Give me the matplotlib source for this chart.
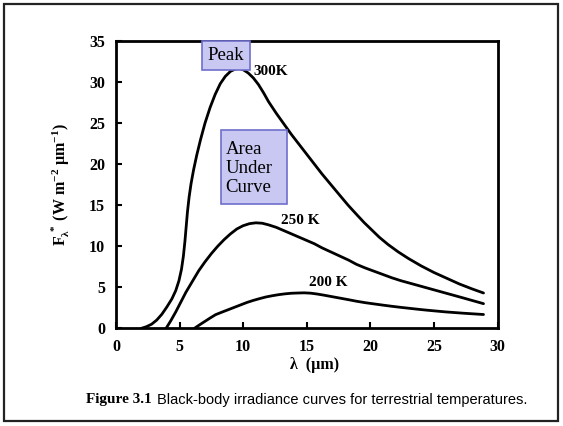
import matplotlib
matplotlib.use("Agg")
import matplotlib.pyplot as plt
from matplotlib.patches import Rectangle

plt.rcParams['font.family'] = ['Liberation Serif', 'DejaVu Serif']
plt.rcParams['mathtext.fontset'] = 'custom'
plt.rcParams['mathtext.rm'] = 'Liberation Serif'
plt.rcParams['mathtext.bf'] = 'Liberation Serif:bold'
plt.rcParams['mathtext.it'] = 'Liberation Serif:italic'

# Black-body spectral irradiance (W m-2 um-1) versus wavelength (um)
wl_300 = [2.0, 2.4, 2.8, 3.2, 3.6, 4.0, 4.4, 4.7, 4.95, 5.15, 5.3, 5.42, 5.52, 5.62,
          5.75, 5.9, 6.1, 6.35, 6.65, 7.0, 7.4, 7.8, 8.2, 8.6, 9.0, 9.4, 9.7, 10.0,
          10.4, 10.8, 11.2, 11.6, 12.0, 12.6, 13.2, 13.8, 14.4, 15.0, 15.6, 16.2,
          16.9, 17.6, 18.25, 18.9, 19.5, 20.1, 20.7, 21.4, 22.2, 23.0, 24.0, 25.0,
          26.0, 27.0, 28.0, 28.9]
irr_300 = [0.0, 0.2, 0.5, 1.0, 1.7, 2.6, 3.6, 4.6, 5.8, 7.2, 8.8, 10.6, 12.4, 14.2,
           16.0, 17.6, 19.3, 21.1, 23.0, 25.0, 26.9, 28.5, 29.8, 30.7, 31.3, 31.6,
           31.65, 31.5, 31.1, 30.5, 29.7, 28.7, 27.6, 26.2, 24.9, 23.6, 22.4, 21.2,
           20.0, 18.8, 17.5, 16.2, 15.0, 13.9, 12.9, 12.0, 11.1, 10.2, 9.3, 8.5,
           7.6, 6.8, 6.1, 5.4, 4.8, 4.3]

wl_250 = [3.94, 4.3, 4.7, 5.1, 5.5, 6.0, 6.5, 7.0, 7.5, 8.0, 8.5, 9.0, 9.5, 10.0,
          10.5, 11.0, 11.5, 12.0, 12.6, 13.2, 13.8, 14.4, 15.0, 15.6, 16.2, 16.9,
          17.6, 18.3, 18.9, 19.6, 20.3, 21.0, 21.7, 22.4, 23.1, 23.8, 24.5, 25.2,
          25.9, 26.6, 27.3, 28.1, 28.9]
irr_250 = [0.0, 0.9, 2.0, 3.2, 4.4, 5.7, 7.0, 8.1, 9.1, 10.0, 10.8, 11.5, 12.1, 12.5,
           12.75, 12.85, 12.8, 12.6, 12.3, 11.9, 11.5, 11.1, 10.7, 10.3, 9.8, 9.3,
           8.8, 8.3, 7.8, 7.35, 6.95, 6.55, 6.15, 5.8, 5.5, 5.2, 4.9, 4.6, 4.3, 4.0,
           3.7, 3.35, 3.0]

wl_200 = [6.17, 6.6, 7.0, 7.4, 7.83, 8.3, 8.8, 9.3, 9.8, 10.3, 10.8, 11.3, 11.8,
          12.3, 12.8, 13.3, 13.8, 14.3, 14.8, 15.3, 15.8, 16.3, 16.9, 17.6, 18.3,
          18.9, 19.6, 20.3, 21.0, 21.7, 22.4, 23.1, 23.8, 24.5, 25.2, 25.9, 26.6,
          27.3, 28.1, 28.9]
irr_200 = [0.0, 0.45, 0.85, 1.25, 1.66, 1.95, 2.25, 2.55, 2.85, 3.15, 3.4, 3.62,
           3.82, 3.97, 4.1, 4.2, 4.27, 4.3, 4.32, 4.28, 4.18, 4.05, 3.88, 3.68,
           3.48, 3.3, 3.12, 2.97, 2.82, 2.68, 2.55, 2.43, 2.31, 2.2, 2.1, 2.0,
           1.92, 1.84, 1.76, 1.68]

curve_labels = ['300K', '250 K', '200 K']

fig = plt.figure(figsize=(5.63, 4.26), dpi=100)

# outer frame
fig.patches.append(Rectangle((4 / 563, 1 - 421 / 426), 554 / 563, 417 / 426,
                             transform=fig.transFigure, fill=False,
                             edgecolor='#222222', lw=1.6))

ax = fig.add_axes([116 / 563, 1 - 328.3 / 426, 381.5 / 563, 287.3 / 426])
for wl, irr in [(wl_300, irr_300), (wl_250, irr_250), (wl_200, irr_200)]:
    ax.plot(wl, irr, color='black', lw=2.0, solid_capstyle='round',
            solid_joinstyle='round')

ax.set_xlim(0, 30)
ax.set_ylim(0, 35)
ax.set_xticks(range(0, 31, 5))
ax.set_yticks(range(0, 36, 5))
for s in ax.spines.values():
    s.set_linewidth(2.0)
ax.tick_params(direction='in', length=4, width=1.5, labelsize=11.5, pad=8)
for lab in ax.get_xticklabels() + ax.get_yticklabels():
    lab.set_fontweight('bold')

ax.set_xlabel('λ  (µm)', fontsize=11.5, fontweight='bold', labelpad=8)
ax.xaxis.set_label_coords(0.52, -0.1)
ax.set_ylabel(r'$\mathbf{F_{\lambda}^{\ *}}$ (W m$^{\mathbf{-2}}$ µm$^{\mathbf{-1}}$)',
              fontsize=11.5, fontweight='bold', labelpad=12)

box_style = dict(facecolor='#c8c8f2', edgecolor='#6e6ecc', lw=1.2)

# "Peak" callout
ax.add_patch(Rectangle((6.76, 31.5), 3.78, 3.5, clip_on=False, zorder=3, **box_style))
ax.text(8.65, 33.2, 'Peak', ha='center', va='center', fontsize=13.5, zorder=4)

# "Area Under Curve" callout
ax.add_patch(Rectangle((8.22, 15.1), 5.19, 9.0, clip_on=False, zorder=3, **box_style))
ax.text(8.6, 19.5, 'Area\nUnder\nCurve', ha='left', va='center', fontsize=13.5,
        linespacing=1.15, zorder=4)

ax.text(10.77, 31.3, curve_labels[0], ha='left', va='center', fontsize=11,
        fontweight='bold')
ax.text(14.47, 13.1, curve_labels[1], ha='center', va='center', fontsize=11,
        fontweight='bold')
ax.text(16.71, 5.55, curve_labels[2], ha='center', va='center', fontsize=11,
        fontweight='bold')

fig.text(86 / 563, 1 - 400 / 426, 'Figure 3.1', ha='left', va='center',
         fontsize=11, fontweight='bold')
fig.text(157 / 563, 1 - 400 / 426,
         'Black-body irradiance curves for terrestrial temperatures.',
         ha='left', va='center', fontsize=10.5, family=['Liberation Sans', 'DejaVu Sans'])

fig.savefig('out.png', dpi=100)
